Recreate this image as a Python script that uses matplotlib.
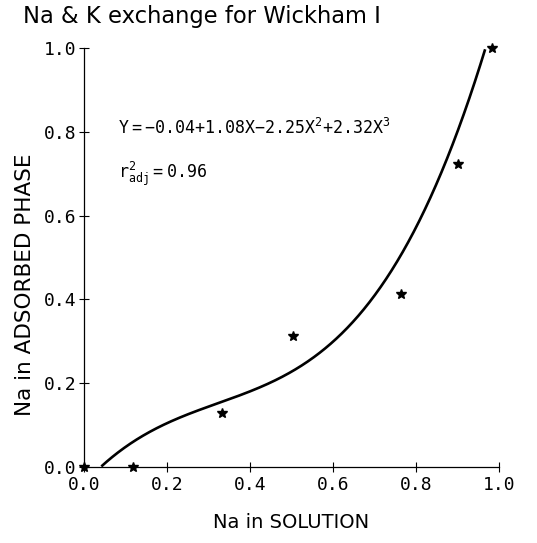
import numpy as np
import matplotlib.pyplot as plt

plt.rcParams['mathtext.fontset'] = 'dejavusans'

# measured exchange data
na_solution = [0.0, 0.118, 0.333, 0.504, 0.764, 0.900, 0.983]
na_adsorbed = [0.0, 0.0, 0.130, 0.312, 0.412, 0.723, 1.0]

# cubic fit coefficients, constant term first
coef = [-0.04, 1.08, -2.25, 2.32]
r2_adj = 0.96

xticks = [0.0, 0.2, 0.4, 0.6, 0.8, 1.0]
yticks = [0.0, 0.2, 0.4, 0.6, 0.8, 1.0]

fig = plt.figure(figsize=(5.37, 5.43), dpi=100)
ax = fig.add_axes([84/537, 76/543, 415/537, 419/543])

xs = np.linspace(0, 1, 600)
ys = np.polynomial.polynomial.polyval(xs, coef)
keep = (ys >= 0) & (ys <= 1.0)
ax.plot(xs[keep], ys[keep], color='black', lw=1.9, solid_capstyle='butt')

ax.plot(na_solution, na_adsorbed, ls='none', marker='*', ms=7, color='black', clip_on=False, zorder=5)

ax.set_xlim(0, 1)
ax.set_ylim(0, 1)
ax.set_xticks(xticks)
ax.set_yticks(yticks)
ax.set_xticklabels([f'{t:.1f}' for t in xticks], family='DejaVu Sans Mono', fontsize=13)
ax.set_yticklabels([f'{t:.1f}' for t in yticks], family='DejaVu Sans Mono', fontsize=13)
ax.tick_params(direction='inout', length=7, width=0.8, pad=2, colors='black')
ax.tick_params(axis='x', pad=3)

for side in ['top', 'right']:
    ax.spines[side].set_visible(False)
for side in ['left', 'bottom']:
    ax.spines[side].set_linewidth(0.9)

ax.set_xlabel('Na in SOLUTION', fontsize=14, labelpad=14)
ax.set_ylabel('Na in ADSORBED PHASE', fontsize=15.5)
ax.yaxis.set_label_coords(-0.118, 0.434)

eq = (r'$\mathtt{Y{=}{-}%.2f{+}%.2fX{-}%.2fX^2{+}%.2fX^3}$'
      % (-coef[0], coef[1], -coef[2], coef[3]))
ax.text(0.082, 0.795, eq, transform=ax.transAxes, fontsize=12)
ax.text(0.082, 0.69, r'$\mathtt{r^2_{adj}{=}%.2f}$' % r2_adj, transform=ax.transAxes, fontsize=12)

fig.text(23/537, 1 - 23/543, 'Na & K exchange for Wickham I', fontsize=16.3, va='baseline')

fig.savefig('out.png', dpi=100)
